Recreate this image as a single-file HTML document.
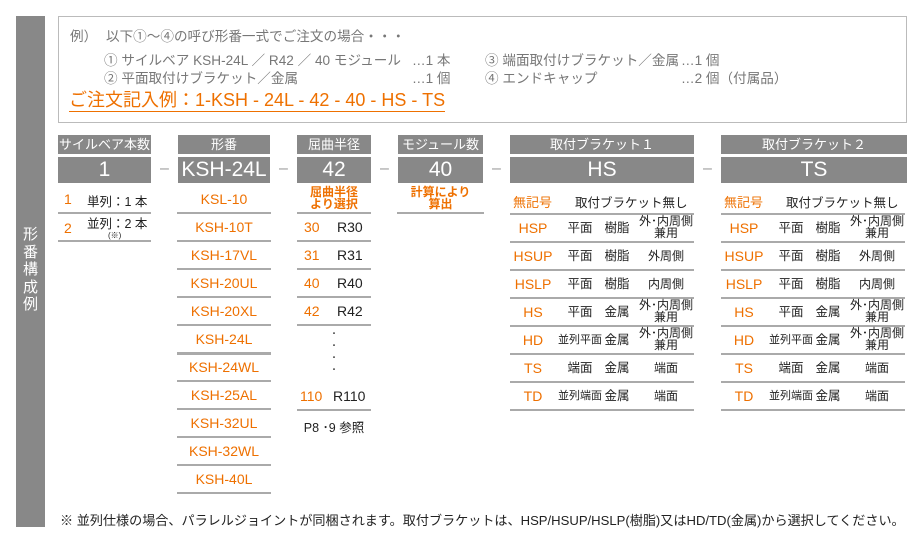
<!DOCTYPE html>
<html><head><meta charset="utf-8">
<style>
body{margin:0;width:923px;height:542px;background:#fff;position:relative;overflow:hidden;font-family:"Liberation Sans","Noto Sans CJK JP",sans-serif;}
.a{position:absolute;white-space:nowrap;}
.g{color:#777;font-size:13.6px;}
.hd{position:absolute;background:#888;color:#fff;text-align:center;}
.o{color:#ee7000;}
.k{color:#222;}
.ln{position:absolute;height:2px;background:#aaa;}
.c{position:absolute;text-align:center;white-space:nowrap;}
</style></head><body>
<div class="a" style="left:16px;top:16px;width:29px;height:511px;background:#888;"></div>
<div class="a" style="left:16px;top:226px;width:29px;color:#fff;font-size:15px;line-height:17.5px;text-align:center;white-space:normal;">形<br>番<br>構<br>成<br>例</div>

<div class="a" style="left:58px;top:16px;width:847px;height:105px;border:1px solid #bbb;"></div>
<div class="a g" style="left:70px;top:25px;">例）</div>
<div class="a g" style="left:106px;top:25px;">以下①～④の呼び形番一式でご注文の場合・・・</div>
<div class="a g" style="left:104px;top:49px;">① サイルベア KSH-24L ／ R42 ／ 40 モジュール</div>
<div class="a g" style="left:412px;top:49px;">…1 本</div>
<div class="a g" style="left:104px;top:67px;">② 平面取付けブラケット／金属</div>
<div class="a g" style="left:412px;top:67px;">…1 個</div>
<div class="a g" style="left:485px;top:49px;">③ 端面取付けブラケット／金属</div>
<div class="a g" style="left:681px;top:49px;">…1 個</div>
<div class="a g" style="left:485px;top:67px;">④ エンドキャップ</div>
<div class="a g" style="left:681px;top:67px;">…2 個（付属品）</div>
<div class="a o" style="left:69px;top:89px;font-size:18px;border-bottom:1px solid #ee7000;line-height:22px;">ご注文記入例：1-KSH - 24L - 42 - 40 - HS - TS</div>

<div id="main"></div>
<div class="a" style="left:60px;top:510px;font-size:13.1px;color:#222;">※ 並列仕様の場合、パラレルジョイントが同梱されます。取付ブラケットは、HSP/HSUP/HSLP(樹脂)又はHD/TD(金属)から選択してください。</div>

<script>
const heads=["サイルベア本数","形番","屈曲半径","モジュール数","取付ブラケット１","取付ブラケット２"];
const vals=["1","KSH-24L","42","40","HS","TS"];
const colX=[58,178,297,398,510,721];
const colW=[93,92,74,85,184,186];
const models=["KSL-10","KSH-10T","KSH-17VL","KSH-20UL","KSH-20XL","KSH-24L","KSH-24WL","KSH-25AL","KSH-32UL","KSH-32WL","KSH-40L"];
const radii=["30","31","40","42"];
const brCodes=["HSP","HSUP","HSLP","HS","HD","TS","TD"];
const brType=["平面","平面","平面","平面","並列平面","端面","並列端面"];
const brMat=["樹脂","樹脂","樹脂","金属","金属","金属","金属"];
const brSide=["外･内周側<br>兼用","外周側","内周側","外･内周側<br>兼用","外･内周側<br>兼用","端面","端面"];
const M=document.getElementById('main');
function mk(cls,l,t,w,h,html,st){const d=document.createElement('div');d.className=cls;d.style.left=l+'px';d.style.top=t+'px';if(w)d.style.width=w+'px';if(h)d.style.height=h+'px';d.innerHTML=html;if(st)d.style.cssText+=st;M.appendChild(d);return d;}
for(let i=0;i<6;i++){
 let h=mk('hd',colX[i],135,colW[i],19,heads[i],'font-size:13px;line-height:19px;');
 
 
 let v=mk('hd',colX[i],157,colW[i],26,vals[i],'font-size:21px;line-height:26px;');
 
 
 if(i<5){let d=mk('a',colX[i]+colW[i]+9,160,0,0,'–','color:#999;font-size:16px;');
 
 }
}
let t=mk('a o',64,191,0,0,'1','font-size:14px;');
t=mk('a k',87,191,0,0,'単列：1 本','font-size:12.5px;');
t=mk('ln',58,212,93,0,'');
t=mk('a o',64,220,0,0,'2','font-size:14px;');
t=mk('a k',87,213,0,0,'並列：2 本','font-size:12.5px;');
t=mk('a k',108,230,0,0,'(※)','font-size:8px;');
t=mk('ln',58,240,93,0,'');
models.forEach((m,i)=>{
 let c=mk('c o',178,185+i*28,92,28,m,'font-size:14px;line-height:28px;');
 
 
 let l=mk('ln',177,212+i*28,94,i==5?3:2,'');
 
 
});
t=mk('c o',297,186,74,26,'屈曲半径<br>より選択','font-size:12px;line-height:12px;font-weight:bold;');
t=mk('ln',297,212,74,0,'');
radii.forEach((r,i)=>{
 let c=mk('a o',304,213+i*28,0,0,r,'font-size:14px;line-height:28px;');
 
 
 let c2=mk('a k',337,213+i*28,0,0,'R'+r,'font-size:14px;line-height:28px;');
 
 
 let l=mk('ln',297,240+i*28,74,0,'');
 
 
});
t=mk('c k',297,328,74,50,'・<br>・<br>・<br>・','font-size:8px;line-height:12px;');
t=mk('a o',300,382,0,0,'110','font-size:14px;line-height:28px;');
t=mk('a k',333,382,0,0,'R110','font-size:14px;line-height:28px;');
t=mk('ln',297,409,74,0,'');
t=mk('c k',297,417,74,0,'P8 ･9 参照','font-size:12.5px;');
t=mk('c o',398,186,85,26,'計算により<br>算出','font-size:12px;line-height:12px;font-weight:bold;');
t=mk('ln',397,212,87,0,'');
[510,721].forEach(x=>{
 let a=mk('a o',x+3,192,0,0,'無記号','font-size:13px;');
 a=mk('a k',x+65,192,0,0,'取付ブラケット無し','font-size:12.5px;');
 a=mk('ln',x,213,184,0,'');
 brCodes.forEach((b,i)=>{
  const y=214+i*28;
  let c=mk('c o',x,y,46,28,b,'font-size:14px;line-height:28px;');
  
  
  c=mk('c k',x+48,y,44,28,brType[i],'font-size:'+(brType[i].length>2?'11px':'12.5px')+';line-height:28px;');
  
  
  c=mk('c k',x+88,y,38,28,brMat[i],'font-size:12.5px;line-height:28px;');
  
  
  const two=brSide[i].indexOf('<br>')>0;
  c=mk('c k',x+126,y+(two?1:0),60,28,brSide[i],'font-size:12px;line-height:'+(two?'12px':'28px')+';');
  
  
  c=mk('ln',x,y+27,184,0,'');
  
  
 });
});
</script>
</body></html>
